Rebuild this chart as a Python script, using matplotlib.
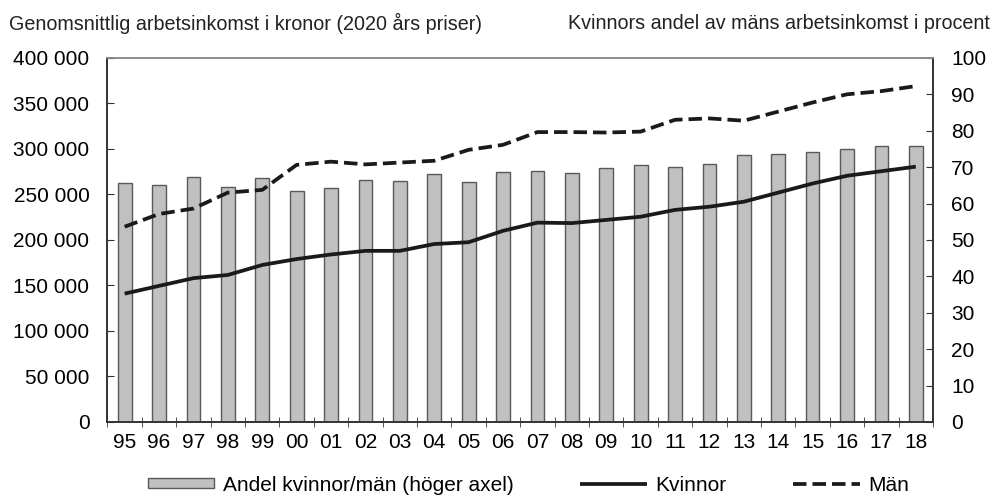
import numpy as np
import matplotlib
matplotlib.use('Agg')
import matplotlib.pyplot as plt
from matplotlib.ticker import FuncFormatter

plt.rcParams['font.family'] = ['Liberation Sans', 'DejaVu Sans']

# Data
years = ['95', '96', '97', '98', '99', '00', '01', '02', '03', '04', '05', '06',
         '07', '08', '09', '10', '11', '12', '13', '14', '15', '16', '17', '18']
kvinnor = [141000, 149500, 158000, 161500, 172500, 179000, 184000, 188000, 188000,
           195500, 197500, 210000, 219000, 218500, 222000, 225500, 233000, 236500,
           242000, 252000, 262000, 270500, 275500, 280500]
man = [214500, 228500, 234500, 252000, 255000, 282500, 286000, 283000, 285000,
       287000, 299000, 304500, 318500, 318500, 318000, 319000, 332000, 333500,
       331000, 341000, 351000, 360000, 363500, 369000]
andel = [65.6, 65.2, 67.3, 64.5, 66.9, 63.4, 64.3, 66.5, 66.1, 68.1, 66.0, 68.6,
         68.8, 68.4, 69.7, 70.7, 70.1, 70.9, 73.3, 73.7, 74.2, 75.1, 75.8, 75.7]

x = np.arange(len(years))

fig = plt.figure(figsize=(9.95, 4.97), dpi=100)
ax = fig.add_axes([0.108, 0.151, 0.8297, 0.7325])
ax2 = ax.twinx()

# bars on the right axis, lines on the left axis
ax2.bar(x, andel, width=0.4, color='#c0c0c0', edgecolor='#595959', linewidth=1,
        label='Andel kvinnor/män (höger axel)', zorder=1)
ax2.set_zorder(0)
ax.set_zorder(1)
ax.patch.set_visible(False)

ax.plot(x, kvinnor, color='#1a1a1a', linewidth=2.7, label='Kvinnor', solid_capstyle='butt')
ax.plot(x, man, color='#1a1a1a', linewidth=2.7, linestyle=(0, (3.6, 1.6)), label='Män')

ax.set_xlim(-0.5, len(years) - 0.5)
ax.set_ylim(0, 400000)
ax2.set_ylim(0, 100)
ax.set_yticks(np.arange(0, 400001, 50000))
ax2.set_yticks(np.arange(0, 101, 10))
ax.yaxis.set_major_formatter(FuncFormatter(lambda v, p: f'{int(v):,}'.replace(',', ' ')))

ax.set_xticks(x)
ax.set_xticklabels(years)
ax.set_xticks(np.arange(-0.5, len(years)), minor=True)
ax.tick_params(axis='x', which='major', length=0, labelsize=15, pad=8)
ax.tick_params(axis='x', which='minor', length=7, direction='inout', color='#333333')
ax.tick_params(axis='y', direction='in', length=5, labelsize=15, pad=13, color='#333333')
ax2.tick_params(axis='y', direction='in', length=5, labelsize=15, pad=13, color='#333333')

for a in (ax, ax2):
    for side in ('left', 'right', 'bottom'):
        a.spines[side].set_color('#333333')
        a.spines[side].set_linewidth(1.2)
    a.spines['top'].set_color('#8c8c8c')
    a.spines['top'].set_linewidth(1.2)

fig.text(0.009, 0.953, 'Genomsnittlig arbetsinkomst i kronor (2020 års priser)', fontsize=14.2,
         color='#222222', va='center')
fig.text(0.995, 0.953, 'Kvinnors andel av mäns arbetsinkomst i procent', fontsize=14.2,
         color='#222222', ha='right', va='center')

h1, l1 = ax2.get_legend_handles_labels()
h2, l2 = ax.get_legend_handles_labels()
fig.legend(h1 + h2, l1 + l2, loc='center', bbox_to_anchor=(0.531, 0.024), ncol=3, frameon=False,
           fontsize=15, handlelength=3.2, handleheight=0.4, columnspacing=3.2, handletextpad=0.4)

fig.savefig('out.png', dpi=100)
